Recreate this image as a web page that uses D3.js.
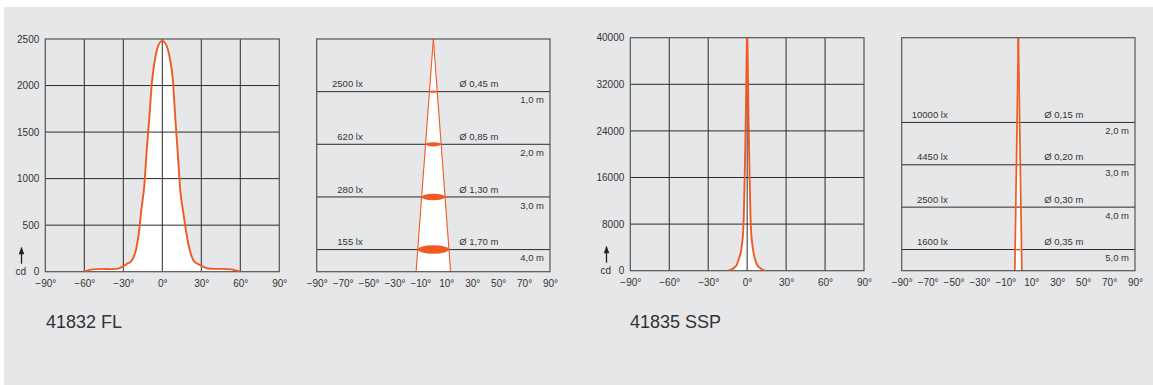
<!DOCTYPE html>
<html><head><meta charset="utf-8">
<script src="https://cdn.jsdelivr.net/npm/d3@7"></script>
<style>
body{margin:0;background:#fff}
svg text{font-family:"Liberation Sans",Arial,sans-serif;fill:#333}
</style>
</head><body>
<svg id="c" width="1153" height="385"></svg>
<script>
// ---------- DATA ----------
const flAngles  = [-60,-55,-50,-45,-40,-35,-30,-27,-24,-22,-20,-18,-16,-14,-12,-10,-8,-6,-4,-2,0,2,4,6,8,10,12,14,16,18,20,22,24,27,30,35,40,45,50,55,60];
const flCandela = [0,22,28,30,28,30,60,85,110,160,250,420,680,900,1300,1650,2030,2250,2390,2460,2480,2460,2400,2280,2080,1650,1250,850,650,460,300,190,120,85,65,35,30,30,28,20,0];
const sspAngles  = [-15,-12,-10,-8,-6,-5,-4,-3,-2.5,-2,-1.5,-1,-0.5,0,0.5,1,1.5,2,2.5,3,4,5,6,8,10,12,14];
const sspCandela = [0,200,500,1000,2300,3000,4500,7000,10000,15000,20500,27000,35000,42000,35000,27000,20500,15000,10000,7000,4500,3000,2000,900,450,150,0];
const flYTicks  = [0,500,1000,1500,2000,2500];
const sspYTicks = [0,8000,16000,24000,32000,40000];
const angleTicks = [-90,-60,-30,0,30,60,90];
const coneTicks  = [-90,-70,-50,-30,-10,10,30,50,70,90];
const flDistance = [1,2,3,4];
const flLux      = [2500,620,280,155];
const flDiameter = [0.45,0.85,1.30,1.70];
const sspDistance = [2,3,4,5];
const sspLux      = [10000,4450,2500,1600];
const sspDiameter = [0.15,0.20,0.30,0.35];
const captions = ["41832 FL","41835 SSP"];

// ---------- DRAW ----------
const svg = d3.select("#c");
svg.append("rect").attr("x",4).attr("y",7).attr("width",1149).attr("height",378).attr("fill","#e6e7e9");
const ORANGE = "#f05a22";
const GRID = "#2b2b2b";
const comma = (f) => (v) => d3.format(f)(v).replace(".", ",");
const deg = d => (d < 0 ? "\u2212" + (-d) : d) + "°";
let clipId = 0;

function styleAxis(g){
  g.select(".domain").remove();
  g.selectAll("text").attr("font-family",'"Liberation Sans",Arial,sans-serif').attr("font-size",10).attr("fill","#333");
}

function intensity(o){
  const x = d3.scaleLinear().domain([-90,90]).range([o.x0,o.x1]);
  const y = d3.scaleLinear().domain([0,o.yMax]).range([o.y1,o.y0]);
  const g = svg.append("g");
  const id = "clip" + (clipId++);
  g.append("clipPath").attr("id",id).append("rect")
    .attr("x",o.x0).attr("y",o.y0).attr("width",o.x1-o.x0).attr("height",o.y1-o.y0);
  const pts = o.angles.map((a,i)=>[a,o.values[i]]);
  g.append("path").datum(pts).attr("clip-path",`url(#${id})`)
    .attr("fill","#fff")
    .attr("d", d3.area().x(d=>x(d[0])).y0(y(0)).y1(d=>y(d[1])).curve(d3.curveMonotoneX));
  g.selectAll(".vg").data(angleTicks.slice(1,-1)).join("line")
    .attr("x1",d=>x(d)).attr("x2",d=>x(d)).attr("y1",o.y0).attr("y2",o.y1)
    .attr("stroke",GRID).attr("stroke-width",1);
  g.selectAll(".hg").data(o.yTicks.slice(1,-1)).join("line")
    .attr("y1",d=>y(d)).attr("y2",d=>y(d)).attr("x1",o.x0).attr("x2",o.x1)
    .attr("stroke",GRID).attr("stroke-width",1);
  g.append("rect").attr("x",o.x0).attr("y",o.y0).attr("width",o.x1-o.x0).attr("height",o.y1-o.y0)
    .attr("fill","none").attr("stroke","#555").attr("stroke-width",1.2);
  g.append("path").datum(pts).attr("clip-path",`url(#${id})`)
    .attr("fill","none").attr("stroke",ORANGE).attr("stroke-width",1.9)
    .attr("d", d3.line().x(d=>x(d[0])).y(d=>y(d[1])).curve(d3.curveMonotoneX));
  g.append("g").attr("transform",`translate(${o.x0},0)`)
    .call(d3.axisLeft(y).tickValues(o.yTicks).tickSize(0).tickPadding(6).tickFormat(d3.format("d")))
    .call(styleAxis);
  g.append("g").attr("transform",`translate(0,${o.y1})`)
    .call(d3.axisBottom(x).tickValues(angleTicks).tickSize(0).tickPadding(8).tickFormat(deg))
    .call(styleAxis);
  const ax = o.x0 - 23.8;
  g.append("line").attr("x1",ax).attr("x2",ax).attr("y1",o.y1-24).attr("y2",o.y1-8)
    .attr("stroke","#222").attr("stroke-width",1.3);
  g.append("path").attr("d",`M${ax},${o.y1-25}L${ax-2.8},${o.y1-17.5}L${ax+2.8},${o.y1-17.5}Z`).attr("fill","#222");
  g.append("text").attr("x",o.x0-24.6).attr("y",o.y1+3.4).attr("text-anchor","middle")
    .attr("font-size",10).text("cd");
}

function cone(o){
  const x = d3.scaleLinear().domain([-90,90]).range([o.x0,o.x1]);
  const xm = d3.scaleLinear().domain([-6.35,6.35]).range([o.x0,o.x1]);
  const y = d3.scaleLinear().domain([0,o.dMax]).range([o.y0,o.y1]);
  const g = svg.append("g");
  const n = o.dist.length - 1;
  const slope = o.diam[n]/2/o.dist[n];
  const cx = xm(0);
  const L = xm(-slope*o.dMax), R = xm(slope*o.dMax);
  g.append("path").attr("d",`M${cx},${y(0)}L${L},${y(o.dMax)}L${R},${y(o.dMax)}Z`).attr("fill","#fff");
  g.selectAll(".hl").data(o.dist).join("line")
    .attr("x1",o.x0).attr("x2",o.x1).attr("y1",d=>y(d)).attr("y2",d=>y(d))
    .attr("stroke",GRID).attr("stroke-width",1);
  g.selectAll(".el").data(o.dist).join("ellipse")
    .attr("cx",cx).attr("cy",d=>y(d))
    .attr("rx",(d,i)=>xm(o.diam[i]/2)-cx)
    .attr("ry",(d,i)=>(xm(o.diam[i]/2)-cx)*0.27)
    .attr("fill",ORANGE);
  g.append("line").attr("x1",cx).attr("y1",y(0)).attr("x2",L).attr("y2",y(o.dMax)).attr("stroke",ORANGE).attr("stroke-width",o.edgeW);
  g.append("line").attr("x1",cx).attr("y1",y(0)).attr("x2",R).attr("y2",y(o.dMax)).attr("stroke",ORANGE).attr("stroke-width",o.edgeW);
  g.append("rect").attr("x",o.x0).attr("y",o.y0).attr("width",o.x1-o.x0).attr("height",o.y1-o.y0)
    .attr("fill","none").attr("stroke","#555").attr("stroke-width",1.2);
  g.selectAll(".lx").data(o.dist).join("text")
    .attr("x",o.x0+46).attr("y",d=>y(d)-4.3).attr("text-anchor","end").attr("font-size",9.5)
    .text((d,i)=>o.lux[i]+" lx");
  g.selectAll(".dm").data(o.dist).join("text")
    .attr("x",o.x0+142.6).attr("y",d=>y(d)-4.3).attr("font-size",9.5)
    .text((d,i)=>"Ø "+comma(".2f")(o.diam[i])+" m");
  g.selectAll(".ds").data(o.dist).join("text")
    .attr("x",o.x1-6).attr("y",d=>y(d)+11.6).attr("text-anchor","end").attr("font-size",9.5)
    .text(d=>comma(".1f")(d)+" m");
  g.append("g").attr("transform",`translate(0,${o.y1})`)
    .call(d3.axisBottom(x).tickValues(coneTicks).tickSize(0).tickPadding(8).tickFormat(deg))
    .call(styleAxis);
}

intensity({x0:45.3,x1:279.3,y0:39,y1:271.7,yMax:2500,yTicks:flYTicks,angles:flAngles,values:flCandela});
cone({x0:316.7,x1:550,y0:39,y1:271.7,dMax:4.42,dist:flDistance,lux:flLux,diam:flDiameter,edgeW:1.1});
intensity({x0:630.3,x1:864,y0:37.7,y1:270.7,yMax:40000,yTicks:sspYTicks,angles:sspAngles,values:sspCandela});
cone({x0:901.7,x1:1135,y0:37.7,y1:270.7,dMax:5.5,dist:sspDistance,lux:sspLux,diam:sspDiameter,edgeW:1.7});

svg.selectAll(".cap").data(captions).join("text")
  .attr("x",(d,i)=>[46,630][i]).attr("y",328.3).attr("font-size",18).text(d=>d);
</script>
</body></html>
